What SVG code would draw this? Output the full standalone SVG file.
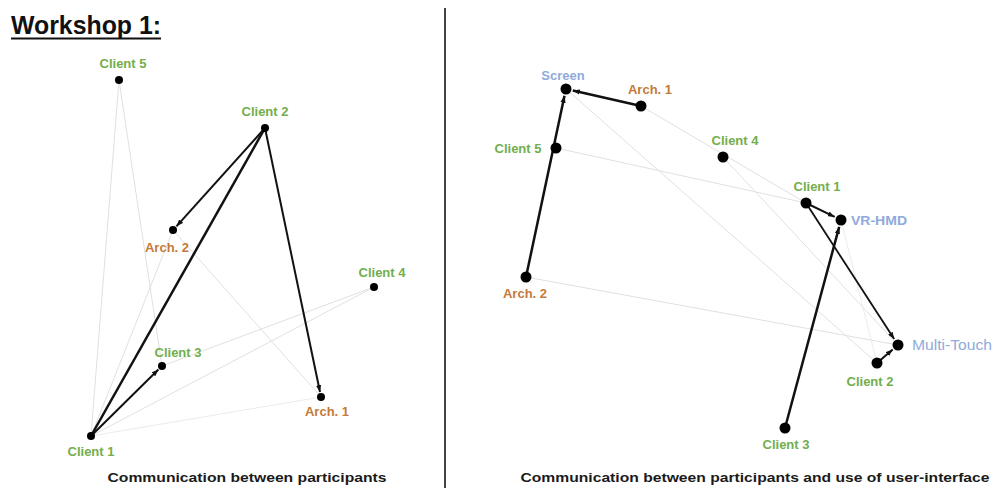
<svg xmlns="http://www.w3.org/2000/svg" width="994" height="488" viewBox="0 0 994 488">
<style>
.bg{fill:#ffffff}
.lbl{font-family:"Liberation Sans",Arial,sans-serif;font-weight:bold;font-size:13px;text-anchor:middle}
.g{fill:#72ae4c}
.o{fill:#c47a3a}
.b{fill:#8faadc}
.cap{font-family:"Liberation Sans",Arial,sans-serif;font-weight:bold;font-size:13px;fill:#1a1a1a;text-anchor:middle}
.faint{stroke:#e0e0e0;stroke-width:1;fill:none}
.faint2{stroke:#ebebeb;stroke-width:1;fill:none}
.arr{stroke:#111;stroke-width:2;fill:none}
.arrR{stroke:#111;stroke-width:2.5;fill:none}
.dotL{fill:#000}
.dotR{fill:#000}
</style>
<defs>
<marker id="ah" viewBox="0 0 8 6" refX="8" refY="3" markerWidth="7" markerHeight="5.5" markerUnits="userSpaceOnUse" orient="auto">
<path d="M0,0 L8,3 L0,6 z" fill="#111"/>
</marker>
</defs>
<rect class="bg" x="0" y="0" width="994" height="488"/>
<text x="11" y="34" font-family="'Liberation Sans',Arial,sans-serif" font-weight="bold" font-size="25" fill="#111" textLength="150" lengthAdjust="spacingAndGlyphs">Workshop 1:</text>
<line x1="11" y1="38.5" x2="161" y2="38.5" stroke="#111" stroke-width="2"/>
<line x1="445" y1="8" x2="445" y2="488" stroke="#444" stroke-width="2"/>

<g id="connectors">
<!-- left faint -->
<line class="faint" x1="119" y1="80" x2="91" y2="436"/>
<line class="faint" x1="119" y1="80" x2="162" y2="366"/>
<line class="faint" x1="173" y1="230" x2="91" y2="436"/>
<line class="faint" x1="173" y1="230" x2="321" y2="397"/>
<line class="faint" x1="374" y1="287" x2="162" y2="366"/>
<line class="faint" x1="374" y1="287" x2="91" y2="436"/>
<line class="faint2" x1="91" y1="436" x2="321" y2="397"/>
<!-- left black -->
<line class="arr" x1="265" y1="128" x2="176.4" y2="226.3" marker-end="url(#ah)"/>
<line class="arr" x1="265" y1="128" x2="320" y2="392" marker-end="url(#ah)"/>
<line class="arr" x1="265" y1="128" x2="91" y2="436" style="stroke-width:2.5"/>
<line class="arr" x1="91" y1="436" x2="158.4" y2="369.5" marker-end="url(#ah)"/>
<!-- right faint -->
<line class="faint" x1="566" y1="89" x2="877" y2="363"/>
<line class="faint" x1="556" y1="148" x2="806" y2="203"/>
<line class="faint" x1="641" y1="106" x2="806" y2="203"/>
<line class="faint" x1="723" y1="157" x2="898" y2="345"/>
<line class="faint" x1="526" y1="277" x2="898" y2="345"/>
<line class="faint2" x1="841" y1="220" x2="877" y2="363"/>
<!-- right black -->
<line class="arrR" x1="641" y1="106" x2="572.8" y2="90.5" marker-end="url(#ah)"/>
<line class="arrR" x1="526" y1="277" x2="564.5" y2="95.8" marker-end="url(#ah)"/>
<line class="arr" x1="806" y1="203" x2="834.7" y2="216.9" marker-end="url(#ah)"/>
<line class="arr" x1="806" y1="203" x2="894.2" y2="339.1" marker-end="url(#ah)" style="stroke-width:1.8"/>
<line class="arr" x1="877" y1="363" x2="892.7" y2="349.5" marker-end="url(#ah)"/>
<line class="arrR" x1="785" y1="428" x2="839.2" y2="226.8" marker-end="url(#ah)"/>
</g>

<g id="L-client5"><circle class="dotL" cx="119" cy="80" r="4"/><text class="lbl g" x="123" y="68">Client 5</text></g>
<g id="L-client2"><circle class="dotL" cx="265" cy="128" r="4"/><text class="lbl g" x="265" y="116">Client 2</text></g>
<g id="L-arch2"><circle class="dotL" cx="173" cy="230" r="4"/><text class="lbl o" x="167" y="252">Arch. 2</text></g>
<g id="L-client4"><circle class="dotL" cx="374" cy="287" r="4"/><text class="lbl g" x="382" y="277">Client 4</text></g>
<g id="L-client3"><circle class="dotL" cx="162" cy="366" r="4"/><text class="lbl g" x="178" y="357">Client 3</text></g>
<g id="L-arch1"><circle class="dotL" cx="321" cy="397" r="4"/><text class="lbl o" x="327" y="416">Arch. 1</text></g>
<g id="L-client1"><circle class="dotL" cx="91" cy="436" r="4"/><text class="lbl g" x="91" y="456">Client 1</text></g>
<text class="cap" x="247" y="482" textLength="279" lengthAdjust="spacingAndGlyphs">Communication between participants</text>

<g id="R-screen"><circle class="dotR" cx="566" cy="89" r="5.5"/><text class="lbl b" x="563" y="80">Screen</text></g>
<g id="R-arch1"><circle class="dotR" cx="641" cy="106" r="5.5"/><text class="lbl o" x="650" y="94">Arch. 1</text></g>
<g id="R-client5"><circle class="dotR" cx="556" cy="148" r="5.5"/><text class="lbl g" x="518" y="153">Client 5</text></g>
<g id="R-client4"><circle class="dotR" cx="723" cy="157" r="5.5"/><text class="lbl g" x="735" y="145">Client 4</text></g>
<g id="R-client1"><circle class="dotR" cx="806" cy="203" r="5.5"/><text class="lbl g" x="817" y="191">Client 1</text></g>
<g id="R-vrhmd"><circle class="dotR" cx="841" cy="220" r="5.5"/><text class="lbl b" x="851" y="225" style="text-anchor:start" textLength="56" lengthAdjust="spacingAndGlyphs">VR-HMD</text></g>
<g id="R-arch2"><circle class="dotR" cx="526" cy="277" r="5.5"/><text class="lbl o" x="525" y="298">Arch. 2</text></g>
<g id="R-multitouch"><circle class="dotR" cx="898" cy="345" r="5.5"/><text class="lbl b" x="912" y="350" style="text-anchor:start;font-weight:normal;font-size:14px" textLength="80" lengthAdjust="spacingAndGlyphs">Multi-Touch</text></g>
<g id="R-client2"><circle class="dotR" cx="877" cy="363" r="5.5"/><text class="lbl g" x="870" y="386">Client 2</text></g>
<g id="R-client3"><circle class="dotR" cx="785" cy="428" r="5.5"/><text class="lbl g" x="786" y="449">Client 3</text></g>
<text class="cap" x="755" y="482" textLength="469" lengthAdjust="spacingAndGlyphs">Communication between participants and use of user-interface</text>
</svg>
